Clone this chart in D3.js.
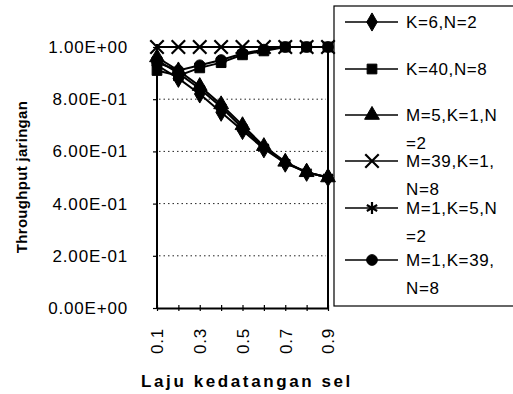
<!DOCTYPE html>
<html>
<head>
<meta charset="utf-8">
<script src="https://cdn.jsdelivr.net/npm/d3@7"></script>
<style>
  html, body { margin: 0; padding: 0; background: #fff; }
  svg { display: block; }
  text { font-family: "Liberation Sans", Arial, sans-serif; fill: #000; }
</style>
</head>
<body>
<svg id="chart" width="513" height="394"></svg>
<script>
// Arrival rate (x categories)
const categories = [0.1, 0.2, 0.3, 0.4, 0.5, 0.6, 0.7, 0.8, 0.9];
const xTickLabels = ["0.1", "", "0.3", "", "0.5", "", "0.7", "", "0.9"];

// Y axis ticks
const yTickValues = [0, 0.2, 0.4, 0.6, 0.8, 1.0];
const yTickLabels = ["0.00E+00", "2.00E-01", "4.00E-01", "6.00E-01", "8.00E-01", "1.00E+00"];

// Network throughput per configuration
const k6n2      = [0.93, 0.88, 0.82, 0.75, 0.68, 0.61, 0.555, 0.52, 0.50];
const k40n8     = [0.91, 0.89, 0.92, 0.94, 0.97, 0.985, 1.00, 1.00, 1.00];
const m5k1n2    = [0.96, 0.91, 0.85, 0.78, 0.70, 0.62, 0.56, 0.52, 0.50];
const m39k1n8   = [1.00, 1.00, 1.00, 1.00, 1.00, 1.00, 1.00, 1.00, 1.00];
const m1k5n2    = [0.95, 0.90, 0.84, 0.77, 0.69, 0.615, 0.557, 0.52, 0.50];
const m1k39n8   = [0.94, 0.91, 0.93, 0.95, 0.975, 0.99, 1.00, 1.00, 1.00];

const seriesNames = [
  ["K=6,N=2"],
  ["K=40,N=8"],
  ["M=5,K=1,N", "=2"],
  ["M=39,K=1,", "N=8"],
  ["M=1,K=5,N", "=2"],
  ["M=1,K=39,", "N=8"]
];
const seriesValues = [k6n2, k40n8, m5k1n2, m39k1n8, m1k5n2, m1k39n8];
const seriesMarkers = ["diamond", "square", "triangle", "x", "asterisk", "circle"];

const svg = d3.select("#chart");

const x = d3.scalePoint().domain(categories).range([157, 328]);
const y = d3.scaleLinear().domain([0, 1]).range([308, 47]);

// Marker drawing
function drawMarker(g, kind, cx, cy, scale = 1) {
  let sym, size, stroked = false;
  switch (kind) {
    case "diamond":  sym = d3.symbolDiamond;  size = 95; break;
    case "square":   sym = d3.symbolSquare;   size = 95; break;
    case "triangle": sym = d3.symbolTriangle; size = 95; break;
    case "circle":   sym = d3.symbolCircle;   size = 90; break;
    case "x":        sym = d3.symbolX;        size = 120; stroked = true; break;
    case "asterisk": sym = d3.symbolAsterisk; size = 100; stroked = true; break;
  }
  const p = g.append("path")
    .attr("d", d3.symbol().type(sym).size(size * scale)())
    .attr("transform", `translate(${cx},${cy})`);
  if (stroked) {
    p.attr("fill", "none").attr("stroke", "#000").attr("stroke-width", 2.2);
  } else {
    p.attr("fill", "#000").attr("stroke", "#000").attr("stroke-width", 1);
  }
}

// Gridlines
svg.append("g")
  .selectAll("line")
  .data(yTickValues.filter(v => v > 0 && v < 1))
  .join("line")
  .attr("x1", 159).attr("x2", 326)
  .attr("y1", d => y(d)).attr("y2", d => y(d))
  .attr("stroke", "#222")
  .attr("stroke-width", 1)
  .attr("stroke-dasharray", "1.5,3");

// Y axis
const yAxis = d3.axisLeft(y)
  .tickValues(yTickValues)
  .tickFormat((d, i) => yTickLabels[i])
  .tickSize(4)
  .tickPadding(25);
const yg = svg.append("g").attr("transform", `translate(${x(0.1)},0)`).call(yAxis);
yg.select(".domain").attr("stroke", "#000").attr("stroke-width", 2)
  .attr("d", `M0,${y(1) - 3}V${y(0)}`);
yg.selectAll(".tick line").attr("stroke", "#000").attr("stroke-width", 1.2);
yg.selectAll(".tick text")
  .attr("font-size", 17)
  .attr("letter-spacing", "0.8px")
  .attr("font-family", "Liberation Sans, Arial, sans-serif")
  .attr("fill", "#000");

// Right border of the plot area
svg.append("line")
  .attr("x1", x(0.9)).attr("x2", x(0.9))
  .attr("y1", y(1)).attr("y2", y(0))
  .attr("stroke", "#000").attr("stroke-width", 2);

// X axis
const xAxis = d3.axisBottom(x)
  .tickFormat((d, i) => xTickLabels[i])
  .tickSizeInner(4)
  .tickSizeOuter(0)
  .tickPadding(10);
const xg = svg.append("g").attr("transform", `translate(0,${y(0)})`).call(xAxis);
xg.select(".domain").attr("stroke", "#000").attr("stroke-width", 2.2);
xg.selectAll(".tick line").attr("stroke", "#000").attr("stroke-width", 1.2)
  .attr("y1", -3).attr("y2", 3);
xg.selectAll(".tick text")
  .attr("font-size", 17)
  .attr("letter-spacing", "0.8px")
  .attr("font-family", "Liberation Sans, Arial, sans-serif")
  .attr("fill", "#000")
  .attr("text-anchor", "end")
  .attr("transform", "rotate(-90)")
  .attr("x", -20)
  .attr("y", 0)
  .attr("dy", "0.35em");

// Series lines and markers
const line = d3.line().x((d, i) => x(categories[i])).y(d => y(d));
const plot = svg.append("g");
seriesValues.forEach((vals, s) => {
  plot.append("path")
    .datum(vals)
    .attr("d", line)
    .attr("fill", "none")
    .attr("stroke", "#000")
    .attr("stroke-width", 2);
  vals.forEach((v, i) => drawMarker(plot, seriesMarkers[s], x(categories[i]), y(v)));
});

// Axis titles
svg.append("text")
  .attr("transform", `translate(27,177) rotate(-90)`)
  .attr("text-anchor", "middle")
  .attr("font-size", 15)
  .attr("font-weight", "bold")
  .attr("letter-spacing", "0.3px")
  .text("Throughput jaringan");

svg.append("text")
  .attr("x", 247).attr("y", 387)
  .attr("text-anchor", "middle")
  .attr("font-size", 17)
  .attr("font-weight", "bold")
  .attr("letter-spacing", "2.6px")
  .text("Laju kedatangan sel");

// Legend
const legend = svg.append("g");
legend.append("rect")
  .attr("x", 334).attr("y", 6)
  .attr("width", 200).attr("height", 300)
  .attr("fill", "none")
  .attr("stroke", "#000")
  .attr("stroke-width", 1.2);

const legendRowY = [22, 69, 115, 161, 208, 260];
seriesNames.forEach((name, s) => {
  const ly = legendRowY[s];
  legend.append("line")
    .attr("x1", 345).attr("x2", 398)
    .attr("y1", ly).attr("y2", ly)
    .attr("stroke", "#000").attr("stroke-width", 1.5);
  drawMarker(legend, seriesMarkers[s], 372, ly);
  name.forEach((t, j) => {
    legend.append("text")
      .attr("x", 406).attr("y", ly + j * 28)
      .attr("dy", "0.35em")
      .attr("font-size", 17)
      .attr("letter-spacing", "0.6px")
      .text(t);
  });
});
</script>
</body>
</html>
